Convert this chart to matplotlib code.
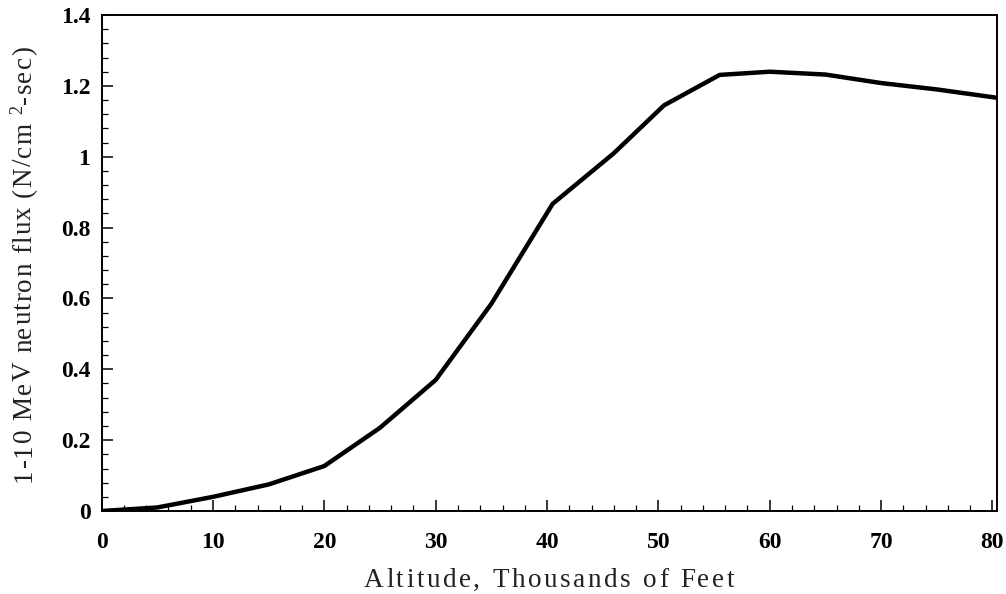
import matplotlib
matplotlib.use("Agg")
import matplotlib.pyplot as plt
from matplotlib.ticker import MultipleLocator, FixedLocator
from matplotlib.transforms import IdentityTransform

# Neutron flux (1-10 MeV) versus altitude
altitude_kft = [0, 5, 10, 15, 20, 25, 30, 35, 40.5, 46, 50.5, 55.5, 60, 65, 70, 75, 80.5]
flux = [0, 0.01, 0.04, 0.075, 0.127, 0.235, 0.37, 0.585, 0.867, 1.01, 1.145, 1.231,
        1.24, 1.232, 1.208, 1.19, 1.166]

x_ticks = [0, 10, 20, 30, 40, 50, 60, 70, 80]
x_tick_labels = ["0", "10", "20", "30", "40", "50", "60", "70", "80"]
y_ticks = [0, 0.2, 0.4, 0.6, 0.8, 1.0, 1.2, 1.4]
y_tick_labels = ["0", "0.2", "0.4", "0.6", "0.8", "1", "1.2", "1.4"]

x_title = "Altitude, Thousands of Feet"
# y title pieces: (text, font size, baseline raise in px)
y_title = [("1-10 MeV neutron flux (N/cm ", 19.5, 0), ("2", 13, 9), ("-sec)", 19.5, 0)]

plt.rcParams["font.family"] = ["Liberation Serif", "DejaVu Serif"]

W, H, DPI = 1006, 594, 100
fig = plt.figure(figsize=(W / DPI, H / DPI), dpi=DPI)
ax = fig.add_axes([0.101, 0.1397, 0.890, 0.835])

ax.plot(altitude_kft, flux, color="black", linewidth=3.2, solid_joinstyle="round")

ax.set_xlim(0, 80.4)
ax.set_ylim(0, 1.4)

ax.xaxis.set_major_locator(FixedLocator(x_ticks))
ax.set_xticklabels(x_tick_labels)
ax.xaxis.set_minor_locator(MultipleLocator(2))
ax.yaxis.set_major_locator(FixedLocator(y_ticks))
ax.set_yticklabels(y_tick_labels)
ax.yaxis.set_minor_locator(MultipleLocator(0.04))

ax.tick_params(which="major", direction="in", length=8, width=1.1, labelsize=17)
ax.tick_params(axis="x", which="major", pad=15)
ax.tick_params(axis="y", which="major", pad=8)
ax.tick_params(which="minor", direction="in", length=4, width=0.9)
for lbl in ax.get_xticklabels() + ax.get_yticklabels():
    lbl.set_fontweight("bold")

for side in ("left", "bottom", "top", "right"):
    ax.spines[side].set_linewidth(1.4)

renderer = fig.canvas.get_renderer()


def advance(ch, size):
    """Horizontal advance of one character in pixels."""
    def width(txt):
        t = fig.text(0, 0, txt, fontsize=size)
        w = t.get_window_extent(renderer=renderer).width
        t.remove()
        return w
    return width("|" + ch + "|") - width("||")


def letterspaced(pieces, center, baseline, gap, vertical=False):
    """Draw text with extra tracking, centred on `center` along its run."""
    glyphs = [(ch, size, rise, advance(ch, size))
              for text, size, rise in pieces for ch in text]
    total = sum(g[3] for g in glyphs) + gap * (len(glyphs) - 1)
    pos = center - total / 2
    for ch, size, rise, adv in glyphs:
        if ch != " ":
            if vertical:
                xy = (baseline - rise, pos)
            else:
                xy = (pos, baseline + rise)
            fig.text(xy[0], xy[1], ch, fontsize=size, transform=IdentityTransform(),
                     rotation=90 if vertical else 0, rotation_mode="anchor",
                     ha="left", va="baseline", color="#222222")
        pos += adv + gap


letterspaced([(x_title, 19.5, 0)], center=549, baseline=H - 587, gap=2.6)
letterspaced(y_title, center=H - 264, baseline=31, gap=1.2, vertical=True)

fig.savefig("out.png", dpi=DPI, facecolor="white")
